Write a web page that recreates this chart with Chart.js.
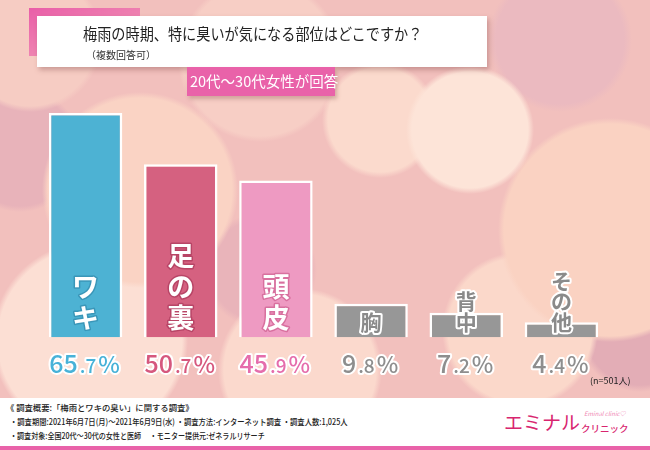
<!DOCTYPE html>
<html>
<head>
<meta charset="utf-8">
<script src="https://cdn.jsdelivr.net/npm/chart.js@4.4.1/dist/chart.umd.min.js"></script>
<style>
body { margin: 0; }
#wrap {
    position: relative; width: 650px; height: 450px; overflow: hidden;
    font-family: "Noto Sans CJK JP", sans-serif;
    background:
        radial-gradient(circle at 470px 130px, #fde4d8 0 58px, transparent 64px),
        radial-gradient(circle at 380px 120px, #fbdacd 0 52px, transparent 58px),
        radial-gradient(circle at 140px 190px, #fad3c4 0 92px, transparent 98px),
        radial-gradient(circle at 90px 340px, #fcdfd4 0 92px, transparent 98px),
        radial-gradient(circle at 300px 370px, #fbd9cd 0 76px, transparent 82px),
        radial-gradient(circle at 610px 230px, #fad2c2 0 106px, transparent 112px),
        radial-gradient(circle at 520px 330px, #fbd8ca 0 72px, transparent 78px),
        radial-gradient(circle at 30px 40px, #f6ccc3 0 66px, transparent 72px),
        radial-gradient(circle at 260px 60px, #f7cec5 0 76px, transparent 82px),
        radial-gradient(circle at 20px 150px, #e8b3ba 0 56px, transparent 62px),
        radial-gradient(circle at 260px 270px, #e9b4ba 0 50px, transparent 57px),
        radial-gradient(circle at 640px 330px, #e3adb6 0 55px, transparent 62px),
        radial-gradient(circle at 560px 40px, #ebbac0 0 64px, transparent 72px),
        #f2c0bd;
}
canvas { position: absolute; left: 0; top: 0; }
.t { position: absolute; white-space: nowrap; }
#accent {
    position: absolute; left: 29px; top: 8px; width: 111px; height: 48px;
    background: linear-gradient(160deg, #e95ea8, #f3a2b9);
}
#titlebox {
    position: absolute; left: 37px; top: 16px; width: 450px; height: 51px;
    background: #fff; box-shadow: 2px 3px 5px rgba(120, 60, 60, 0.35);
}
#badge {
    position: absolute; left: 187px; top: 67px; width: 148px; height: 29px;
    background: #e962a9; box-shadow: 2px 3px 4px rgba(120, 60, 60, 0.3);
}
#footer {
    position: absolute; left: 0; top: 398px; width: 650px; height: 48px; background: #fff;
}
#footline {
    position: absolute; left: 0; top: 446px; width: 650px; height: 4px; background: #e962a9;
}
.foot { font-size: 8.5px; color: #222; font-weight: 500; transform-origin: left top; }
</style>
</head>
<body>
<div id="wrap">
    <canvas id="partsChart" width="650" height="450"></canvas>
    <div id="accent"></div>
    <div id="titlebox"></div>
    <div class="t" style="left:83px;top:21px;font-size:16px;color:#222;transform:scaleX(0.885);transform-origin:left top;">梅雨の時期、特に臭いが気になる部位はどこですか？</div>
    <div class="t" style="left:86px;top:47px;font-size:10px;color:#333;">（複数回答可）</div>
    <div id="badge"></div>
    <div class="t" style="left:190px;top:70px;font-size:14.5px;color:#fff;">20代～30代女性が回答</div>
    <div class="t" style="left:590px;top:374px;font-size:9px;color:#222;">(n=501人)</div>
    <div id="footer"></div>
    <div id="footline"></div>
    <div class="t foot" style="left:6px;top:401px;transform:scaleX(0.98);">《 調査概要:「梅雨とワキの臭い」に関する調査》</div>
    <div class="t foot" style="left:10px;top:415px;transform:scaleX(0.86);">・調査期間:2021年6月7日(月)～2021年6月9日(水) ・調査方法:インターネット調査 ・調査人数:1,025人</div>
    <div class="t foot" style="left:10px;top:429px;transform:scaleX(0.83);">・調査対象:全国20代～30代の女性と医師 　・モニター提供元:ゼネラルリサーチ</div>
    <div class="t" style="left:504px;top:408px;font-size:19px;color:#d8256f;">エミナル</div>
    <div class="t" style="left:584px;top:409px;font-size:6px;color:#f08ab5;font-style:italic;">Eminal clinic♡</div>
    <div class="t" style="left:581px;top:421px;font-size:9.5px;color:#d8256f;font-weight:500;">クリニック</div>
</div>
<script>
// values
const categories = ['ワキ', '足の裏', '頭皮', '胸', '背中', 'その他'];
const values = [65.7, 50.7, 45.9, 9.8, 7.2, 4.4];

const barColors = ['#4db2d3', '#d56180', '#ee9ac2', '#979797', '#979797', '#979797'];
const textColors = ['#48b2d8', '#d6587e', '#e56dac', '#8e8e8e', '#8e8e8e', '#8e8e8e'];
const rimColors = ['#3a96b8', '#b84566', '#d8709f', '#ffffff', '#ffffff', '#ffffff'];

const labelPlugin = {
    id: 'barLabels',
    afterDatasetsDraw(chart) {
        const ctx = chart.ctx;
        const meta = chart.getDatasetMeta(0);
        meta.data.forEach((bar, i) => {
            const gray = i >= 3;
            const chars = Array.from(categories[i]);
            const size = gray ? 21 : 27;
            const pitch = gray ? 20.5 : 31;
            const lastY = gray ? 322 : 318;
            ctx.save();
            ctx.font = '700 ' + size + 'px "Noto Sans CJK JP"';
            ctx.textAlign = 'center';
            ctx.textBaseline = 'middle';
            ctx.lineJoin = 'round';
            chars.forEach((ch, k) => {
                const y = lastY - (chars.length - 1 - k) * pitch;
                ctx.lineWidth = gray ? 4 : 3;
                ctx.strokeStyle = rimColors[i];
                ctx.strokeText(ch, bar.x, y);
                ctx.fillStyle = gray ? '#8a8a8a' : '#ffffff';
                ctx.fillText(ch, bar.x, y);
            });
            ctx.restore();

            // value label: big integer, small decimal
            const parts = String(values[i]).split('.');
            const pieces = [
                { s: parts[0], f: '500 25px "Noto Sans CJK JP"' },
                { s: '.' + parts[1], f: '500 19px "Noto Sans CJK JP"' },
                { s: '%', f: '500 23px "Noto Sans CJK JP"' }
            ];
            ctx.save();
            ctx.textBaseline = 'alphabetic';
            ctx.textAlign = 'left';
            let total = 0;
            pieces.forEach(p => { ctx.font = p.f; p.w = ctx.measureText(p.s).width + 2; total += p.w; });
            let x = bar.x - total / 2;
            const base = 373;
            ctx.lineJoin = 'round';
            pieces.forEach(p => {
                ctx.font = p.f;
                ctx.lineWidth = 4;
                ctx.strokeStyle = '#ffffff';
                ctx.strokeText(p.s, x, base);
                ctx.fillStyle = textColors[i];
                ctx.fillText(p.s, x, base);
                x += p.w;
            });
            ctx.restore();
        });
    }
};

new Chart(document.getElementById('partsChart').getContext('2d'), {
    type: 'bar',
    data: {
        labels: categories,
        datasets: [{
            data: values,
            backgroundColor: barColors,
            borderColor: '#ffffff',
            borderWidth: 2.5,
            barPercentage: 1,
            categoryPercentage: 0.772
        }]
    },
    options: {
        responsive: false,
        animation: false,
        layout: { padding: { left: 38, right: 41, top: 100, bottom: 108 } },
        plugins: { legend: { display: false }, tooltip: { enabled: false } },
        scales: {
            x: { display: false },
            y: { display: false, min: -1.4, max: 69.5 }
        }
    },
    plugins: [labelPlugin]
});
</script>
</body>
</html>
